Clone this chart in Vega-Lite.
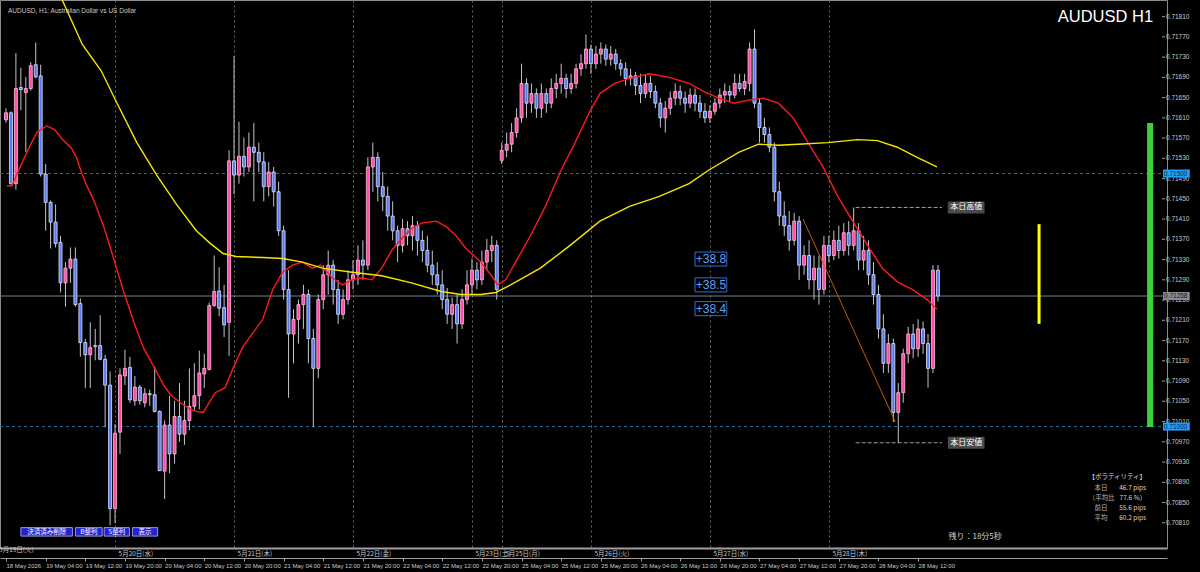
{
"$schema":"https://vega.github.io/schema/vega-lite/v6.json",
"width":1167,"height":548,
"autosize":"none",
"padding":{"left":0,"top":0,"right":33,"bottom":24},
"background":"#000000",
"config":{"view":{"stroke":"#8a8a8a","strokeWidth":1},"text":{"font":"Liberation Sans"}},
"resolve":{"axis":{"x":"independent"}},
"datasets":{
"candles":[
{"k":0,"o":0.71606,"h":0.71629,"l":0.71600,"c":0.71620},
{"k":1,"o":0.71620,"h":0.71623,"l":0.71478,"c":0.71480},
{"k":2,"o":0.71480,"h":0.71738,"l":0.71468,"c":0.71668},
{"k":3,"o":0.71670,"h":0.71709,"l":0.71625,"c":0.71666},
{"k":4,"o":0.71660,"h":0.71691,"l":0.71542,"c":0.71668},
{"k":5,"o":0.71668,"h":0.71720,"l":0.71664,"c":0.71713},
{"k":6,"o":0.71715,"h":0.71759,"l":0.71688,"c":0.71691},
{"k":7,"o":0.71693,"h":0.71715,"l":0.71494,"c":0.71499},
{"k":8,"o":0.71499,"h":0.71519,"l":0.71387,"c":0.71443},
{"k":9,"o":0.71443,"h":0.71447,"l":0.71352,"c":0.71404},
{"k":10,"o":0.71404,"h":0.71439,"l":0.71354,"c":0.71362},
{"k":11,"o":0.71364,"h":0.71377,"l":0.71265,"c":0.71284},
{"k":12,"o":0.71284,"h":0.71325,"l":0.71237,"c":0.71313},
{"k":13,"o":0.71313,"h":0.71354,"l":0.71284,"c":0.71331},
{"k":14,"o":0.71331,"h":0.71354,"l":0.71237,"c":0.71241},
{"k":15,"o":0.71243,"h":0.71253,"l":0.71138,"c":0.71166},
{"k":16,"o":0.71166,"h":0.71173,"l":0.71076,"c":0.71142},
{"k":17,"o":0.71142,"h":0.71206,"l":0.71076,"c":0.71156},
{"k":18,"o":0.71158,"h":0.71193,"l":0.71131,"c":0.71160},
{"k":19,"o":0.71160,"h":0.71220,"l":0.71131,"c":0.71133},
{"k":20,"o":0.71133,"h":0.71142,"l":0.70999,"c":0.71082},
{"k":21,"o":0.71082,"h":0.71109,"l":0.70805,"c":0.70838},
{"k":22,"o":0.70838,"h":0.71005,"l":0.70809,"c":0.70987},
{"k":23,"o":0.70989,"h":0.71115,"l":0.70946,"c":0.71102},
{"k":24,"o":0.71100,"h":0.71152,"l":0.71082,"c":0.71115},
{"k":25,"o":0.71117,"h":0.71138,"l":0.71047,"c":0.71053},
{"k":26,"o":0.71051,"h":0.71100,"l":0.71041,"c":0.71078},
{"k":27,"o":0.71078,"h":0.71082,"l":0.71043,"c":0.71051},
{"k":28,"o":0.71047,"h":0.71076,"l":0.71038,"c":0.71065},
{"k":29,"o":0.71065,"h":0.71073,"l":0.71041,"c":0.71063},
{"k":30,"o":0.71063,"h":0.71119,"l":0.71028,"c":0.71030},
{"k":31,"o":0.71030,"h":0.71032,"l":0.70912,"c":0.70913},
{"k":32,"o":0.70912,"h":0.71012,"l":0.70857,"c":0.71003},
{"k":33,"o":0.71003,"h":0.71061,"l":0.70908,"c":0.70946},
{"k":34,"o":0.70946,"h":0.71051,"l":0.70927,"c":0.71020},
{"k":35,"o":0.71020,"h":0.71086,"l":0.70970,"c":0.70985},
{"k":36,"o":0.70985,"h":0.71051,"l":0.70964,"c":0.71012},
{"k":37,"o":0.71012,"h":0.71115,"l":0.70993,"c":0.71040},
{"k":38,"o":0.71040,"h":0.71125,"l":0.71032,"c":0.71061},
{"k":39,"o":0.71061,"h":0.71150,"l":0.71034,"c":0.71106},
{"k":40,"o":0.71104,"h":0.71144,"l":0.71076,"c":0.71115},
{"k":41,"o":0.71113,"h":0.71245,"l":0.71111,"c":0.71239},
{"k":42,"o":0.71239,"h":0.71338,"l":0.71237,"c":0.71267},
{"k":43,"o":0.71268,"h":0.71315,"l":0.71218,"c":0.71234},
{"k":44,"o":0.71235,"h":0.71280,"l":0.71177,"c":0.71201},
{"k":45,"o":0.71206,"h":0.71546,"l":0.71140,"c":0.71525},
{"k":46,"o":0.71525,"h":0.71732,"l":0.71459,"c":0.71497},
{"k":47,"o":0.71497,"h":0.71602,"l":0.71480,"c":0.71534},
{"k":48,"o":0.71534,"h":0.71571,"l":0.71494,"c":0.71513},
{"k":49,"o":0.71513,"h":0.71581,"l":0.71503,"c":0.71552},
{"k":50,"o":0.71552,"h":0.71600,"l":0.71445,"c":0.71542},
{"k":51,"o":0.71542,"h":0.71561,"l":0.71503,"c":0.71523},
{"k":52,"o":0.71523,"h":0.71542,"l":0.71445,"c":0.71474},
{"k":53,"o":0.71474,"h":0.71523,"l":0.71455,"c":0.71503},
{"k":54,"o":0.71503,"h":0.71513,"l":0.71435,"c":0.71464},
{"k":55,"o":0.71464,"h":0.71484,"l":0.71377,"c":0.71387},
{"k":56,"o":0.71387,"h":0.71397,"l":0.71251,"c":0.71271},
{"k":57,"o":0.71271,"h":0.71309,"l":0.71057,"c":0.71183},
{"k":58,"o":0.71183,"h":0.71232,"l":0.71125,"c":0.71212},
{"k":59,"o":0.71212,"h":0.71251,"l":0.71164,"c":0.71241},
{"k":60,"o":0.71241,"h":0.71280,"l":0.71193,"c":0.71261},
{"k":61,"o":0.71261,"h":0.71271,"l":0.71125,"c":0.71174},
{"k":62,"o":0.71174,"h":0.71193,"l":0.70999,"c":0.71115},
{"k":63,"o":0.71115,"h":0.71261,"l":0.71096,"c":0.71251},
{"k":64,"o":0.71251,"h":0.71319,"l":0.71232,"c":0.71300},
{"k":65,"o":0.71300,"h":0.71348,"l":0.71261,"c":0.71319},
{"k":66,"o":0.71319,"h":0.71329,"l":0.71241,"c":0.71271},
{"k":67,"o":0.71271,"h":0.71290,"l":0.71203,"c":0.71222},
{"k":68,"o":0.71222,"h":0.71271,"l":0.71212,"c":0.71251},
{"k":69,"o":0.71251,"h":0.71309,"l":0.71241,"c":0.71290},
{"k":70,"o":0.71290,"h":0.71329,"l":0.71271,"c":0.71300},
{"k":71,"o":0.71300,"h":0.71358,"l":0.71280,"c":0.71329},
{"k":72,"o":0.71329,"h":0.71368,"l":0.71290,"c":0.71319},
{"k":73,"o":0.71319,"h":0.71532,"l":0.71309,"c":0.71513},
{"k":74,"o":0.71513,"h":0.71561,"l":0.71464,"c":0.71532},
{"k":75,"o":0.71532,"h":0.71542,"l":0.71445,"c":0.71474},
{"k":76,"o":0.71474,"h":0.71503,"l":0.71426,"c":0.71455},
{"k":77,"o":0.71455,"h":0.71474,"l":0.71387,"c":0.71416},
{"k":78,"o":0.71416,"h":0.71445,"l":0.71368,"c":0.71387},
{"k":79,"o":0.71387,"h":0.71397,"l":0.71325,"c":0.71358},
{"k":80,"o":0.71358,"h":0.71410,"l":0.71344,"c":0.71391},
{"k":81,"o":0.71391,"h":0.71406,"l":0.71358,"c":0.71377},
{"k":82,"o":0.71377,"h":0.71416,"l":0.71348,"c":0.71397},
{"k":83,"o":0.71397,"h":0.71406,"l":0.71338,"c":0.71368},
{"k":84,"o":0.71368,"h":0.71387,"l":0.71325,"c":0.71348},
{"k":85,"o":0.71348,"h":0.71377,"l":0.71305,"c":0.71319},
{"k":86,"o":0.71319,"h":0.71348,"l":0.71280,"c":0.71300},
{"k":87,"o":0.71300,"h":0.71325,"l":0.71261,"c":0.71280},
{"k":88,"o":0.71280,"h":0.71309,"l":0.71232,"c":0.71251},
{"k":89,"o":0.71251,"h":0.71274,"l":0.71203,"c":0.71222},
{"k":90,"o":0.71222,"h":0.71255,"l":0.71193,"c":0.71241},
{"k":91,"o":0.71241,"h":0.71261,"l":0.71164,"c":0.71203},
{"k":92,"o":0.71203,"h":0.71271,"l":0.71193,"c":0.71251},
{"k":93,"o":0.71251,"h":0.71309,"l":0.71241,"c":0.71280},
{"k":94,"o":0.71280,"h":0.71332,"l":0.71261,"c":0.71309},
{"k":95,"o":0.71309,"h":0.71325,"l":0.71271,"c":0.71290},
{"k":96,"o":0.71290,"h":0.71348,"l":0.71280,"c":0.71325},
{"k":97,"o":0.71325,"h":0.71371,"l":0.71309,"c":0.71348},
{"k":98,"o":0.71348,"h":0.71377,"l":0.71325,"c":0.71358},
{"k":99,"o":0.71358,"h":0.71368,"l":0.71251,"c":0.71271},
{"k":100,"o":0.71526,"h":0.71561,"l":0.71519,"c":0.71546},
{"k":101,"o":0.71546,"h":0.71581,"l":0.71532,"c":0.71558},
{"k":102,"o":0.71558,"h":0.71600,"l":0.71542,"c":0.71581},
{"k":103,"o":0.71581,"h":0.71629,"l":0.71571,"c":0.71610},
{"k":104,"o":0.71610,"h":0.71717,"l":0.71600,"c":0.71678},
{"k":105,"o":0.71678,"h":0.71688,"l":0.71610,"c":0.71639},
{"k":106,"o":0.71639,"h":0.71678,"l":0.71620,"c":0.71658},
{"k":107,"o":0.71658,"h":0.71668,"l":0.71610,"c":0.71629},
{"k":108,"o":0.71629,"h":0.71678,"l":0.71610,"c":0.71658},
{"k":109,"o":0.71658,"h":0.71668,"l":0.71620,"c":0.71639},
{"k":110,"o":0.71639,"h":0.71688,"l":0.71629,"c":0.71668},
{"k":111,"o":0.71668,"h":0.71697,"l":0.71649,"c":0.71678},
{"k":112,"o":0.71678,"h":0.71717,"l":0.71658,"c":0.71688},
{"k":113,"o":0.71688,"h":0.71697,"l":0.71649,"c":0.71668},
{"k":114,"o":0.71668,"h":0.71697,"l":0.71658,"c":0.71678},
{"k":115,"o":0.71678,"h":0.71717,"l":0.71668,"c":0.71707},
{"k":116,"o":0.71707,"h":0.71736,"l":0.71693,"c":0.71717},
{"k":117,"o":0.71717,"h":0.71775,"l":0.71707,"c":0.71746},
{"k":118,"o":0.71746,"h":0.71755,"l":0.71697,"c":0.71717},
{"k":119,"o":0.71717,"h":0.71752,"l":0.71707,"c":0.71736},
{"k":120,"o":0.71736,"h":0.71759,"l":0.71717,"c":0.71746},
{"k":121,"o":0.71746,"h":0.71755,"l":0.71713,"c":0.71726},
{"k":122,"o":0.71726,"h":0.71752,"l":0.71713,"c":0.71736},
{"k":123,"o":0.71736,"h":0.71746,"l":0.71705,"c":0.71717},
{"k":124,"o":0.71717,"h":0.71726,"l":0.71693,"c":0.71707},
{"k":125,"o":0.71707,"h":0.71720,"l":0.71674,"c":0.71688},
{"k":126,"o":0.71688,"h":0.71707,"l":0.71674,"c":0.71693},
{"k":127,"o":0.71693,"h":0.71701,"l":0.71655,"c":0.71674},
{"k":128,"o":0.71674,"h":0.71697,"l":0.71639,"c":0.71658},
{"k":129,"o":0.71658,"h":0.71697,"l":0.71649,"c":0.71678},
{"k":130,"o":0.71678,"h":0.71693,"l":0.71649,"c":0.71662},
{"k":131,"o":0.71662,"h":0.71674,"l":0.71629,"c":0.71639},
{"k":132,"o":0.71639,"h":0.71649,"l":0.71591,"c":0.71610},
{"k":133,"o":0.71610,"h":0.71643,"l":0.71581,"c":0.71629},
{"k":134,"o":0.71629,"h":0.71662,"l":0.71616,"c":0.71649},
{"k":135,"o":0.71649,"h":0.71678,"l":0.71635,"c":0.71662},
{"k":136,"o":0.71662,"h":0.71674,"l":0.71635,"c":0.71649},
{"k":137,"o":0.71649,"h":0.71662,"l":0.71620,"c":0.71639},
{"k":138,"o":0.71639,"h":0.71668,"l":0.71629,"c":0.71655},
{"k":139,"o":0.71655,"h":0.71668,"l":0.71623,"c":0.71639},
{"k":140,"o":0.71639,"h":0.71655,"l":0.71610,"c":0.71623},
{"k":141,"o":0.71623,"h":0.71639,"l":0.71600,"c":0.71610},
{"k":142,"o":0.71610,"h":0.71635,"l":0.71600,"c":0.71623},
{"k":143,"o":0.71623,"h":0.71649,"l":0.71616,"c":0.71639},
{"k":144,"o":0.71639,"h":0.71668,"l":0.71629,"c":0.71655},
{"k":145,"o":0.71655,"h":0.71678,"l":0.71639,"c":0.71662},
{"k":146,"o":0.71662,"h":0.71674,"l":0.71643,"c":0.71655},
{"k":147,"o":0.71655,"h":0.71697,"l":0.71649,"c":0.71678},
{"k":148,"o":0.71678,"h":0.71697,"l":0.71662,"c":0.71668},
{"k":149,"o":0.71668,"h":0.71697,"l":0.71655,"c":0.71682},
{"k":150,"o":0.71678,"h":0.71759,"l":0.71662,"c":0.71746},
{"k":151,"o":0.71746,"h":0.71785,"l":0.71629,"c":0.71639},
{"k":152,"o":0.71639,"h":0.71649,"l":0.71561,"c":0.71591},
{"k":153,"o":0.71591,"h":0.71610,"l":0.71561,"c":0.71577},
{"k":154,"o":0.71577,"h":0.71591,"l":0.71542,"c":0.71552},
{"k":155,"o":0.71552,"h":0.71561,"l":0.71445,"c":0.71464},
{"k":156,"o":0.71464,"h":0.71484,"l":0.71397,"c":0.71416},
{"k":157,"o":0.71416,"h":0.71445,"l":0.71377,"c":0.71397},
{"k":158,"o":0.71397,"h":0.71426,"l":0.71348,"c":0.71368},
{"k":159,"o":0.71368,"h":0.71422,"l":0.71358,"c":0.71406},
{"k":160,"o":0.71406,"h":0.71416,"l":0.71290,"c":0.71319},
{"k":161,"o":0.71319,"h":0.71358,"l":0.71300,"c":0.71338},
{"k":162,"o":0.71338,"h":0.71368,"l":0.71271,"c":0.71290},
{"k":163,"o":0.71290,"h":0.71338,"l":0.71251,"c":0.71313},
{"k":164,"o":0.71313,"h":0.71338,"l":0.71241,"c":0.71271},
{"k":165,"o":0.71271,"h":0.71377,"l":0.71261,"c":0.71358},
{"k":166,"o":0.71358,"h":0.71377,"l":0.71325,"c":0.71338},
{"k":167,"o":0.71338,"h":0.71387,"l":0.71329,"c":0.71368},
{"k":168,"o":0.71368,"h":0.71397,"l":0.71332,"c":0.71348},
{"k":169,"o":0.71348,"h":0.71402,"l":0.71338,"c":0.71383},
{"k":170,"o":0.71383,"h":0.71406,"l":0.71338,"c":0.71358},
{"k":171,"o":0.71358,"h":0.71433,"l":0.71348,"c":0.71387},
{"k":172,"o":0.71387,"h":0.71402,"l":0.71309,"c":0.71329},
{"k":173,"o":0.71329,"h":0.71377,"l":0.71309,"c":0.71348},
{"k":174,"o":0.71348,"h":0.71368,"l":0.71280,"c":0.71300},
{"k":175,"o":0.71300,"h":0.71325,"l":0.71241,"c":0.71261},
{"k":176,"o":0.71261,"h":0.71280,"l":0.71174,"c":0.71193},
{"k":177,"o":0.71193,"h":0.71222,"l":0.71106,"c":0.71125},
{"k":178,"o":0.71125,"h":0.71183,"l":0.71106,"c":0.71164},
{"k":179,"o":0.71164,"h":0.71174,"l":0.71009,"c":0.71028},
{"k":180,"o":0.71028,"h":0.71086,"l":0.70968,"c":0.71067},
{"k":181,"o":0.71067,"h":0.71154,"l":0.71047,"c":0.71144},
{"k":182,"o":0.71144,"h":0.71197,"l":0.71125,"c":0.71183},
{"k":183,"o":0.71183,"h":0.71203,"l":0.71135,"c":0.71154},
{"k":184,"o":0.71154,"h":0.71212,"l":0.71138,"c":0.71193},
{"k":185,"o":0.71193,"h":0.71208,"l":0.71144,"c":0.71164},
{"k":186,"o":0.71164,"h":0.71183,"l":0.71077,"c":0.71115},
{"k":187,"o":0.71115,"h":0.71319,"l":0.71106,"c":0.71309},
{"k":188,"o":0.71309,"h":0.71319,"l":0.71247,"c":0.71258}
],
"red":[
{"k":0.2,"p":0.71476},{"k":1.2,"p":0.71476},{"k":2.4,"p":0.71503},{"k":4.4,"p":0.71546},{"k":6.2,"p":0.71581},{"k":8.2,"p":0.71594},{"k":9.8,"p":0.71587},{"k":11.4,"p":0.71567},{"k":13.2,"p":0.71550},{"k":14.2,"p":0.71532},{"k":15.2,"p":0.71503},{"k":16.2,"p":0.71478},{"k":17.8,"p":0.71445},{"k":19.8,"p":0.71393},{"k":21.8,"p":0.71329},{"k":23.8,"p":0.71265},{"k":25.8,"p":0.71206},{"k":27.8,"p":0.71154},{"k":29.8,"p":0.71119},{"k":31.8,"p":0.71082},{"k":33.2,"p":0.71063},{"k":35.2,"p":0.71047},{"k":37.2,"p":0.71034},{"k":38.4,"p":0.71030},{"k":39.8,"p":0.71028},{"k":41.2,"p":0.71051},{"k":42.2,"p":0.71067},{"k":44.2,"p":0.71077},{"k":45.8,"p":0.71115},{"k":47.8,"p":0.71158},{"k":51.8,"p":0.71212},{"k":53.8,"p":0.71271},{"k":55.8,"p":0.71305},{"k":57.8,"p":0.71319},{"k":59.8,"p":0.71325},{"k":61.8,"p":0.71313},{"k":63.4,"p":0.71319},{"k":65.8,"p":0.71294},{"k":67.8,"p":0.71280},{"k":69.8,"p":0.71290},{"k":71.8,"p":0.71294},{"k":73.8,"p":0.71290},{"k":75.8,"p":0.71313},{"k":77.8,"p":0.71348},{"k":79.8,"p":0.71371},{"k":81.8,"p":0.71391},{"k":83.8,"p":0.71402},{"k":86.8,"p":0.71406},{"k":88.8,"p":0.71395},{"k":90.8,"p":0.71377},{"k":92.8,"p":0.71352},{"k":95.8,"p":0.71325},{"k":97.8,"p":0.71300},{"k":99.2,"p":0.71280},{"k":100.8,"p":0.71290},{"k":102.8,"p":0.71325},{"k":105.8,"p":0.71377},{"k":108.8,"p":0.71435},{"k":111.8,"p":0.71503},{"k":114.8,"p":0.71561},{"k":117.8,"p":0.71623},{"k":119.8,"p":0.71658},{"k":122.8,"p":0.71678},{"k":125.8,"p":0.71688},{"k":129.8,"p":0.71697},{"k":133.8,"p":0.71690},{"k":137.8,"p":0.71678},{"k":140.8,"p":0.71662},{"k":143.8,"p":0.71649},{"k":146.8,"p":0.71639},{"k":149.8,"p":0.71645},{"k":152.8,"p":0.71649},{"k":155.8,"p":0.71639},{"k":158.8,"p":0.71610},{"k":161.8,"p":0.71561},{"k":164.8,"p":0.71513},{"k":167.8,"p":0.71455},{"k":170.8,"p":0.71406},{"k":173.8,"p":0.71358},{"k":176.8,"p":0.71313},{"k":179.8,"p":0.71286},{"k":182.8,"p":0.71271},{"k":185.8,"p":0.71251},{"k":187.8,"p":0.71232}
],
"yellow":[
{"k":10.5,"p":0.71861},{"k":11.8,"p":0.71833},{"k":15.4,"p":0.71755},{"k":19.2,"p":0.71703},{"k":22.4,"p":0.71639},{"k":26.4,"p":0.71561},{"k":30.4,"p":0.71497},{"k":34.4,"p":0.71439},{"k":38.4,"p":0.71387},{"k":41.2,"p":0.71362},{"k":43.8,"p":0.71342},{"k":46.4,"p":0.71336},{"k":51.8,"p":0.71334},{"k":55.8,"p":0.71332},{"k":59.8,"p":0.71325},{"k":63.8,"p":0.71313},{"k":69.8,"p":0.71305},{"k":75.8,"p":0.71298},{"k":81.8,"p":0.71284},{"k":87.8,"p":0.71267},{"k":91.8,"p":0.71261},{"k":95.8,"p":0.71261},{"k":98.8,"p":0.71265},{"k":101.8,"p":0.71280},{"k":107.8,"p":0.71313},{"k":113.8,"p":0.71358},{"k":119.8,"p":0.71406},{"k":125.8,"p":0.71435},{"k":131.8,"p":0.71455},{"k":137.8,"p":0.71480},{"k":141.8,"p":0.71507},{"k":147.8,"p":0.71542},{"k":151.8,"p":0.71558},{"k":155.8,"p":0.71556},{"k":159.8,"p":0.71558},{"k":165.8,"p":0.71561},{"k":171.8,"p":0.71567},{"k":175.8,"p":0.71565},{"k":179.8,"p":0.71552},{"k":183.8,"p":0.71532},{"k":187.8,"p":0.71513}
],
"yticks":[
{"v":0.7081},{"v":0.7085},{"v":0.7089},{"v":0.7093},{"v":0.7097},{"v":0.7101},{"v":0.7105},{"v":0.7109},{"v":0.7113},{"v":0.7117},{"v":0.7121},{"v":0.7125},{"v":0.7129},{"v":0.7133},{"v":0.7137},{"v":0.7141},{"v":0.7145},{"v":0.7149},{"v":0.7153},{"v":0.7157},{"v":0.7161},{"v":0.7165},{"v":0.7169},{"v":0.7173},{"v":0.7177},{"v":0.7181}
]
},
"layer":[
{"data":{"values":[{"p":0.715},{"p":0.71}]},
 "mark":{"type":"rule","color":"#2b6f9e","strokeDash":[3,3],"strokeWidth":1},
 "encoding":{"y":{"field":"p","type":"quantitative","scale":{"domain":[0.7077,0.71833],"nice":false,"zero":false},"axis":null}}},
{"data":{"values":[{"p":0.71258}]},
 "mark":{"type":"rule","color":"#6f8192","strokeWidth":1},
 "encoding":{"y":{"field":"p","type":"quantitative","axis":null}}},
{"data":{"name":"candles"},
 "mark":{"type":"rule","color":"#c4c4cc","strokeWidth":1},
 "encoding":{
  "x":{"field":"k","type":"quantitative","scale":{"domain":[-0.2,233.2],"nice":false,"zero":false},
   "axis":{"orient":"bottom","offset":10,"title":null,"values":[0,8,16,24,32,40,48,56,64,72,80,88,96,104,112,120,128,136,144,152,160,168,176,184],
    "labelExpr":"['18 May 2026','19 May 04:00','19 May 12:00','19 May 20:00','20 May 04:00','20 May 12:00','20 May 20:00','21 May 04:00','21 May 12:00','21 May 20:00','22 May 04:00','22 May 12:00','22 May 20:00','25 May 04:00','25 May 12:00','25 May 20:00','26 May 04:00','26 May 12:00','26 May 20:00','27 May 04:00','27 May 12:00','27 May 20:00','28 May 04:00','28 May 12:00'][round(datum.value/8)]",
    "labelAlign":"left","labelBaseline":"top","labelFont":"Liberation Sans","labelFontSize":6,"labelColor":"#c8c8c8","labelPadding":1,"tickSize":3,"tickColor":"#a0a0a0","domainColor":"#a0a0a0","grid":false,"labelOverlap":false,"labelFlush":false,"labelBound":false}},
  "y":{"field":"l","type":"quantitative","axis":null},
  "y2":{"field":"h"}}},
{"data":{"name":"candles"},
 "mark":{"type":"bar","orient":"vertical","size":3,"strokeWidth":0.8},
 "encoding":{
  "x":{"field":"k","type":"quantitative",
   "axis":{"orient":"bottom","offset":0,"title":null,"values":[22,46,70,94,100,118,142,166],
    "labelExpr":"['5月20日(水)','5月21日(木)','5月22日(金)','5月23日(土)','5月25日(月)','5月26日(火)','5月27日(水)','5月28日(木)'][indexof([22,46,70,94,100,118,142,166], datum.value)]",
    "labelAlign":"left","labelBaseline":"top","labelOffset":3,"labelFont":"Noto Sans CJK JP","labelFontSize":6.5,"labelColor":"#c8c8c8","labelPadding":2,"tickSize":0,"domainColor":"#a0a0a0","domainWidth":2,
    "grid":true,"gridColor":"#6a6a6a","gridDash":[2,3],"gridWidth":1,"labelOverlap":false,"labelFlush":false,"labelBound":false}},
  "y":{"field":"o","type":"quantitative","axis":null},
  "y2":{"field":"c"},
  "fill":{"condition":{"test":"datum.c >= datum.o","value":"#ff4aa8"},"value":"#5a78f0"},
  "stroke":{"condition":{"test":"datum.c >= datum.o","value":"#ffc0e0"},"value":"#e0e6ff"}}},
{"data":{"values":[{"k":-1.4,"p":0.70762,"t":"5月19日(火)"}]},
 "mark":{"type":"text","color":"#c8c8c8","font":"Noto Sans CJK JP","fontSize":6.5,"align":"left","baseline":"top"},
 "encoding":{"x":{"field":"k","type":"quantitative","axis":null},"y":{"field":"p","type":"quantitative","axis":null},"text":{"field":"t"}}},
{"data":{"name":"red"},
 "mark":{"type":"line","color":"#ff1a1a","strokeWidth":1.4,"clip":true},
 "encoding":{"x":{"field":"k","type":"quantitative","axis":null},"y":{"field":"p","type":"quantitative","axis":null}}},
{"data":{"name":"yellow"},
 "mark":{"type":"line","color":"#f5e600","strokeWidth":1.4,"clip":true},
 "encoding":{"x":{"field":"k","type":"quantitative","axis":null},"y":{"field":"p","type":"quantitative","axis":null}}},
{"data":{"values":[{"k":160.8,"p":0.7141},{"k":179.4,"p":0.71009}]},
 "mark":{"type":"line","color":"#c05a00","strokeWidth":1},
 "encoding":{"x":{"field":"k","type":"quantitative","axis":null},"y":{"field":"p","type":"quantitative","axis":null}}},
{"data":{"values":[{"k1":171.4,"k2":188.8,"p":0.71433},{"k1":171.4,"k2":188.8,"p":0.70968}]},
 "mark":{"type":"rule","color":"#a0a0a0","strokeDash":[4,2],"strokeWidth":1},
 "encoding":{"x":{"field":"k1","type":"quantitative","axis":null},"x2":{"field":"k2"},"y":{"field":"p","type":"quantitative","axis":null}}},
{"data":{"values":[{"k1":190,"k2":197.4,"p":0.71433},{"k1":190,"k2":197.4,"p":0.70968}]},
 "mark":{"type":"bar","orient":"horizontal","size":12,"color":"#4a4a4a"},
 "encoding":{"x":{"field":"k1","type":"quantitative","axis":null},"x2":{"field":"k2"},"y":{"field":"p","type":"quantitative","axis":null}}},
{"data":{"values":[{"k":193.7,"p":0.71433,"t":"本日高値"},{"k":193.7,"p":0.70968,"t":"本日安値"}]},
 "mark":{"type":"text","color":"#ffffff","font":"Noto Sans CJK JP","fontSize":8,"align":"center","baseline":"middle"},
 "encoding":{"x":{"field":"k","type":"quantitative","axis":null},"y":{"field":"p","type":"quantitative","axis":null},"text":{"field":"t"}}},
{"data":{"values":[{"k1":139,"k2":145.4,"p":0.71331},{"k1":139,"k2":145.4,"p":0.7128},{"k1":139,"k2":145.4,"p":0.71233}]},
 "mark":{"type":"bar","orient":"horizontal","size":14,"fill":"#000000","stroke":"#2f6fd6","strokeWidth":1},
 "encoding":{"x":{"field":"k1","type":"quantitative","axis":null},"x2":{"field":"k2"},"y":{"field":"p","type":"quantitative","axis":null}}},
{"data":{"values":[{"k":142.2,"p":0.71331,"t":"+38.8"},{"k":142.2,"p":0.7128,"t":"+38.5"},{"k":142.2,"p":0.71233,"t":"+38.4"}]},
 "mark":{"type":"text","color":"#5aa0ff","fontSize":12,"align":"center","baseline":"middle"},
 "encoding":{"x":{"field":"k","type":"quantitative","axis":null},"y":{"field":"p","type":"quantitative","axis":null},"text":{"field":"t"}}},
{"data":{"values":[{"k":230.8,"p1":0.716,"p2":0.70999}]},
 "mark":{"type":"rule","color":"#3cd23c","strokeWidth":6},
 "encoding":{"x":{"field":"k","type":"quantitative","axis":null},"y":{"field":"p1","type":"quantitative","axis":null},"y2":{"field":"p2"}}},
{"data":{"values":[{"k":208.4,"p1":0.714,"p2":0.71203}]},
 "mark":{"type":"rule","color":"#ffff00","strokeWidth":3},
 "encoding":{"x":{"field":"k","type":"quantitative","axis":null},"y":{"field":"p1","type":"quantitative","axis":null},"y2":{"field":"p2"}}},
{"data":{"values":[{"k":0.4,"p":0.71821,"t":"AUDUSD, H1:  Australian Dollar vs US Dollar"}]},
 "mark":{"type":"text","color":"#c8c8c8","fontSize":6.5,"align":"left","baseline":"middle"},
 "encoding":{"x":{"field":"k","type":"quantitative","axis":null},"y":{"field":"p","type":"quantitative","axis":null},"text":{"field":"t"}}},
{"data":{"values":[{"k":231.4,"p":0.71809,"t":"AUDUSD H1"}]},
 "mark":{"type":"text","color":"#ffffff","fontSize":16.5,"align":"right","baseline":"middle"},
 "encoding":{"x":{"field":"k","type":"quantitative","axis":null},"y":{"field":"p","type":"quantitative","axis":null},"text":{"field":"t"}}},
{"data":{"values":[{"k":230,"p":0.709,"t":"【ボラティリティ】"},{"k":230,"p":0.70879,"t":"46.7 pips"},{"k":230,"p":0.70859,"t":"77.6 %）"},{"k":230,"p":0.7084,"t":"55.6 pips"},{"k":230,"p":0.7082,"t":"60.2 pips"}]},
 "mark":{"type":"text","color":"#d8d8d8","font":"Noto Sans CJK JP","fontSize":6.5,"align":"right","baseline":"middle"},
 "encoding":{"x":{"field":"k","type":"quantitative","axis":null},"y":{"field":"p","type":"quantitative","axis":null},"text":{"field":"t"}}},
{"data":{"values":[{"k":219.6,"p":0.70879,"t":"本日"},{"k":218.4,"p":0.70859,"t":"（平均比"},{"k":219.6,"p":0.7084,"t":"前日"},{"k":219.6,"p":0.7082,"t":"平均"}]},
 "mark":{"type":"text","color":"#b8b8b8","font":"Noto Sans CJK JP","fontSize":6.5,"align":"left","baseline":"middle"},
 "encoding":{"x":{"field":"k","type":"quantitative","axis":null},"y":{"field":"p","type":"quantitative","axis":null},"text":{"field":"t"}}},
{"data":{"values":[{"k1":3.0,"k2":13.4},{"k1":14.0,"k2":19.4},{"k1":19.8,"k2":24.9},{"k1":25.5,"k2":30.6}]},
 "mark":{"type":"bar","orient":"horizontal","size":8.5,"fill":"#2323d2","stroke":"#b8b8ff","strokeWidth":0.8},
 "encoding":{"x":{"field":"k1","type":"quantitative","axis":null},"x2":{"field":"k2"},"y":{"datum":0.70792,"type":"quantitative","axis":null}}},
{"data":{"values":[{"k":8.2,"t":"決済済み削除"},{"k":16.7,"t":"B整列"},{"k":22.35,"t":"S整列"},{"k":28.05,"t":"表示"}]},
 "mark":{"type":"text","color":"#ffffff","font":"Noto Sans CJK JP","fontSize":6.5,"align":"center","baseline":"middle"},
 "encoding":{"x":{"field":"k","type":"quantitative","axis":null},"y":{"datum":0.70792,"type":"quantitative","axis":null},"text":{"field":"t"}}},
{"data":{"values":[{"k":195.5,"p":0.70782,"t":"残り：18分5秒"}]},
 "mark":{"type":"text","color":"#d0d0d0","font":"Noto Sans CJK JP","fontSize":8,"align":"center","baseline":"middle"},
 "encoding":{"x":{"field":"k","type":"quantitative","axis":null},"y":{"field":"p","type":"quantitative","axis":null},"text":{"field":"t"}}},
{"data":{"name":"yticks"},
 "mark":{"type":"rule","color":"#a0a0a0","strokeWidth":1},
 "encoding":{"x":{"datum":233.2,"type":"quantitative","axis":null},"x2":{"datum":233.8},"y":{"field":"v","type":"quantitative","axis":null}}},
{"data":{"name":"yticks"},
 "mark":{"type":"text","color":"#c8c8c8","fontSize":6.5,"align":"left","baseline":"middle"},
 "encoding":{"x":{"datum":234.0,"type":"quantitative","axis":null},"y":{"field":"v","type":"quantitative","axis":null},"text":{"field":"v","type":"quantitative","format":".5f"}}},
{"data":{"values":[{"k1":233.4,"k2":238.8,"p":0.715,"c":"#1fa0ff"},{"k1":233.4,"k2":238.8,"p":0.71258,"c":"#8a8a8a"},{"k1":233.4,"k2":238.8,"p":0.71,"c":"#1fa0ff"}]},
 "mark":{"type":"bar","orient":"horizontal","size":8},
 "encoding":{"x":{"field":"k1","type":"quantitative","axis":null},"x2":{"field":"k2"},"y":{"field":"p","type":"quantitative","axis":null},"color":{"field":"c","type":"nominal","scale":null,"legend":null}}},
{"data":{"values":[{"k":233.6,"p":0.715,"t":"0.71500"},{"k":233.6,"p":0.71258,"t":"0.71258"},{"k":233.6,"p":0.71,"t":"0.71000"}]},
 "mark":{"type":"text","color":"#0a1a40","fontSize":6.5,"align":"left","baseline":"middle"},
 "encoding":{"x":{"field":"k","type":"quantitative","axis":null},"y":{"field":"p","type":"quantitative","axis":null},"text":{"field":"t"}}}
]
}
